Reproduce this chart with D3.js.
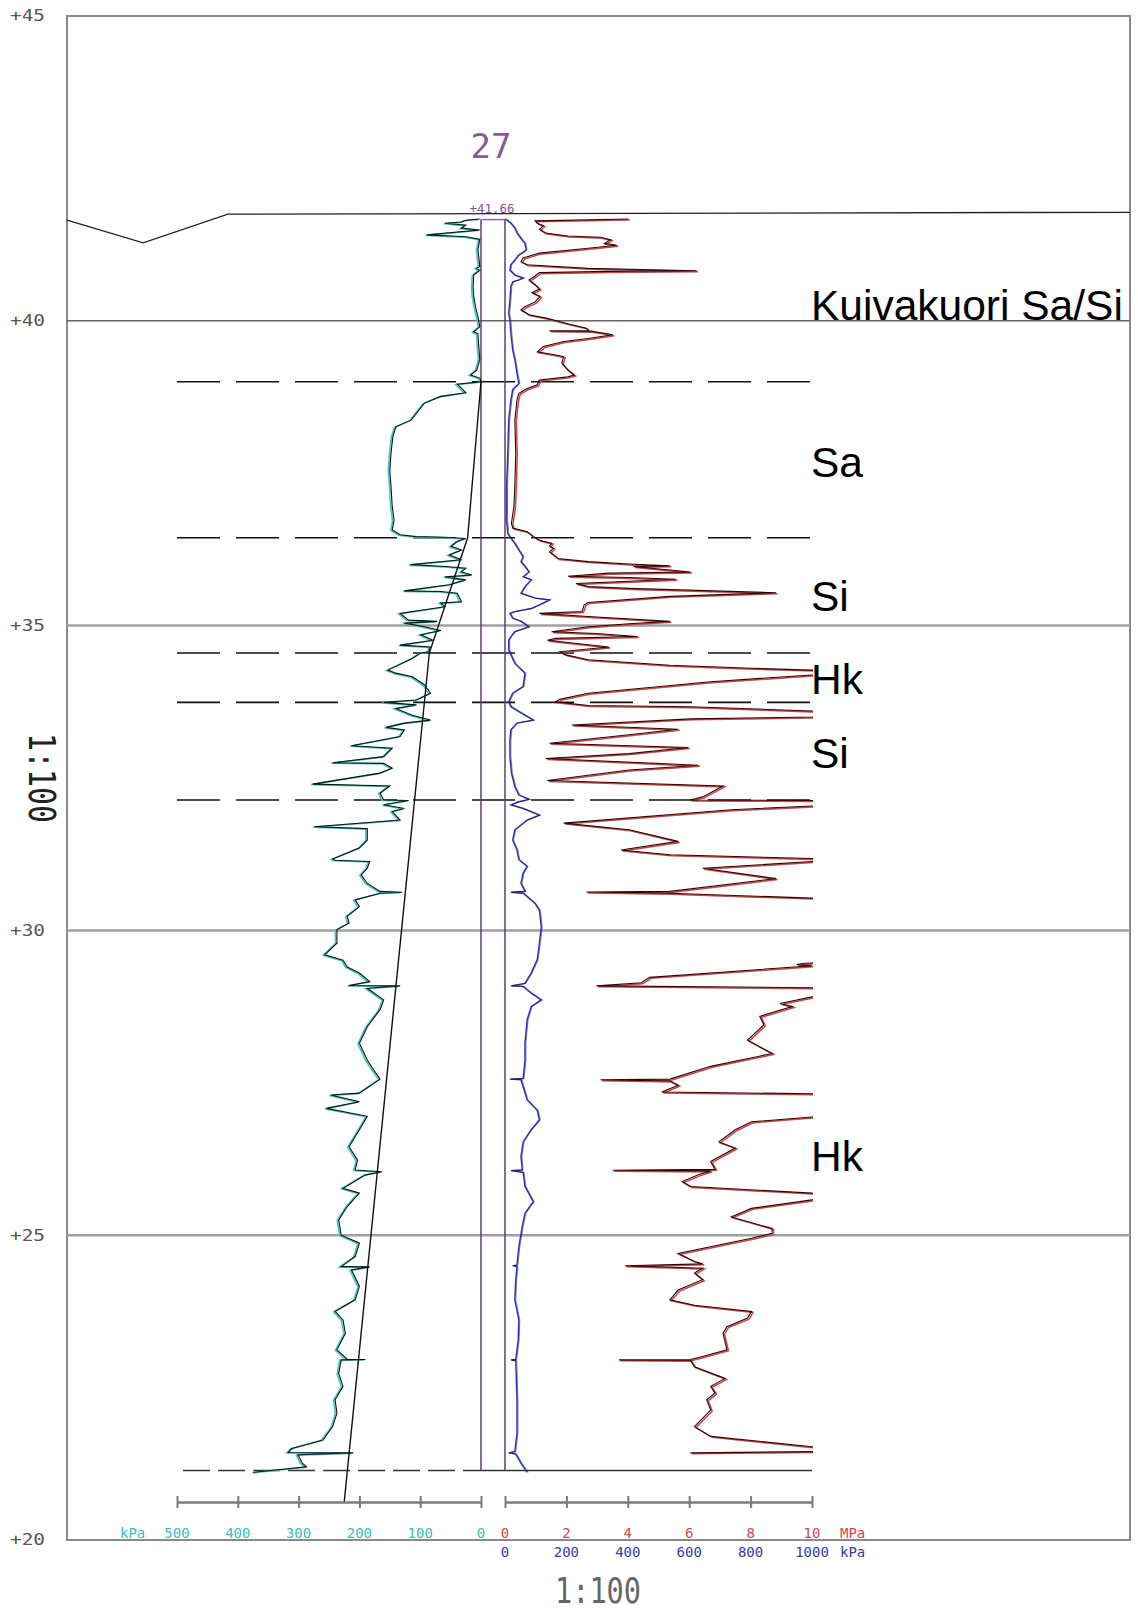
<!DOCTYPE html>
<html lang="fi">
  <head>
    <meta charset="utf-8">
    <title>CPT 27</title>
    <style>
      body { margin: 0; background: #fff; }
      svg { display: block; }
    </style>
    <script src="https://d3js.org/d3.v7.min.js"></script>
  </head>
  <body>
    <div class="chart"></div>
    <script>
    // elevation grid, layer boundaries, ground surface
    const elevTicks = [45, 40, 35, 30, 25, 20];
    const layerLines = [40, 35, 30, 25];
    const boundaries = [39.0, 36.44, 34.55, 33.74, 32.14];
    const bottomElev = 21.14;
    const cptTop = 41.66;
    const groundDist = [0, 1.25, 2.64, 17.44];
    const groundElev = [41.65, 41.28, 41.75, 41.78];

    const layerNames = ["Kuivakuori Sa/Si", "Sa", "Si", "Hk", "Si", "Hk"];
    const layerNameElev = [40.01, 37.44, 35.24, 33.88, 32.66, 26.05];

    const leftTicks = [500, 400, 300, 200, 100, 0];
    const mpaTicks = [0, 2, 4, 6, 8, 10];
    const kpaTicks = [0, 200, 400, 600, 800, 1000];

    // [elevation, kPa] left curve
    const fs = [[41.67,2],[41.65,25],[41.62,32],[41.60,59],[41.57,25],[41.52,32],[41.49,2],[41.41,89],[41.38,25],[41.34,2],[41.16,5],[40.89,2],[40.86,7],[40.83,2],[40.75,12],[40.56,13],[40.40,12],[40.23,9],[40.07,5],[39.90,2],[39.82,12],[39.79,5],[39.63,4],[39.36,2],[39.19,7],[39.11,17],[39.06,2],[39.00,0],[38.96,39],[38.89,32],[38.82,25],[38.76,66],[38.65,93],[38.37,115],[38.26,140],[38.10,145],[37.83,148],[37.55,150],[37.28,148],[36.95,146],[36.73,143],[36.57,146],[36.49,133],[36.46,106],[36.45,59],[36.43,25],[36.38,39],[36.30,49],[36.24,32],[36.16,52],[36.08,32],[36.00,116],[35.97,59],[35.94,25],[35.88,32],[35.83,15],[35.80,59],[35.75,25],[35.67,52],[35.57,126],[35.56,66],[35.53,39],[35.39,32],[35.37,66],[35.31,59],[35.20,133],[35.09,119],[35.07,72],[35.04,126],[34.98,93],[34.92,66],[34.85,99],[34.76,79],[34.68,133],[34.65,83],[34.57,86],[34.55,99],[34.46,113],[34.27,153],[34.22,140],[34.16,113],[34.03,93],[33.89,83],[33.78,106],[33.74,160],[33.70,106],[33.64,140],[33.53,113],[33.45,83],[33.40,126],[33.33,156],[33.29,126],[33.18,133],[33.03,213],[32.99,146],[32.85,160],[32.75,244],[32.74,160],[32.66,146],[32.58,166],[32.40,277],[32.37,150],[32.25,166],[32.14,160],[32.13,119],[32.06,160],[32.00,126],[31.95,146],[31.81,133],[31.70,274],[31.67,187],[31.48,187],[31.35,200],[31.17,244],[31.15,240],[31.13,183],[31.02,187],[30.91,197],[30.77,187],[30.64,166],[30.625,130],[30.61,166],[30.50,207],[30.39,200],[30.23,220],[30.12,217],[30.01,237],[29.79,237],[29.60,257],[29.51,227],[29.40,220],[29.30,200],[29.16,183],[29.095,217],[29.09,133],[29.05,187],[28.86,160],[28.70,166],[28.42,187],[28.15,200],[27.87,187],[27.66,173],[27.56,166],[27.33,200],[27.30,247],[27.19,200],[27.08,254],[26.95,187],[26.73,200],[26.45,217],[26.23,203],[26.07,207],[26.04,163],[25.99,190],[25.77,227],[25.69,200],[25.47,220],[25.25,234],[25.00,230],[24.87,200],[24.65,207],[24.485,230],[24.48,183],[24.43,213],[24.16,200],[23.94,207],[23.75,240],[23.61,227],[23.39,223],[23.12,237],[22.965,220],[22.96,190],[22.955,230],[22.73,234],[22.52,227],[22.30,240],[22.08,237],[21.86,244],[21.64,260],[21.50,311],[21.435,317],[21.43,210],[21.40,301],[21.26,294],[21.20,287],[21.11,374]];

    // [elevation, kPa] stress line
    const stress = [[39.0,0],[36.44,22],[34.55,85],[20.62,225]];

    // [elevation, MPa] cone resistance (values > 10 run off the scale)
    const qc = [[41.67,4.02],[41.64,0.98],[41.60,1.05],[41.56,1.25],[41.50,1.12],[41.44,1.32],[41.39,2.05],[41.37,3.11],[41.33,3.44],[41.27,3.24],[41.24,3.64],[41.19,2.71],[41.11,1.12],[41.03,0.59],[40.97,0.52],[40.92,0.72],[40.86,2.71],[40.82,6.24],[40.81,3.38],[40.79,1.12],[40.735,0.98],[40.67,0.78],[40.59,0.98],[40.52,1.12],[40.46,0.88],[40.40,1.14],[40.31,0.98],[40.23,0.65],[40.18,0.52],[40.10,0.78],[40.04,1.38],[39.96,1.98],[39.88,2.65],[39.84,2.70],[39.835,1.45],[39.83,2.80],[39.77,3.51],[39.71,2.71],[39.66,1.91],[39.58,1.25],[39.49,1.05],[39.44,1.65],[39.41,1.91],[39.30,1.85],[39.19,2.05],[39.11,2.25],[39.08,2.05],[39.03,1.12],[38.95,1.05],[38.89,0.72],[38.81,0.45],[38.70,0.39],[38.37,0.32],[37.83,0.35],[37.28,0.32],[36.95,0.29],[36.68,0.21],[36.60,0.25],[36.54,0.72],[36.46,0.92],[36.40,1.12],[36.35,1.52],[36.30,1.45],[36.27,1.58],[36.21,1.45],[36.16,1.58],[36.10,1.72],[36.05,2.71],[36.01,4.04],[35.98,5.37],[35.97,4.18],[35.88,6.04],[35.86,3.38],[35.81,2.05],[35.79,4.04],[35.76,5.57],[35.69,2.31],[35.64,2.71],[35.61,4.04],[35.54,8.83],[35.48,5.37],[35.38,2.71],[35.34,2.58],[35.23,2.51],[35.20,1.12],[35.15,2.71],[35.07,5.37],[35.03,4.04],[34.98,2.71],[34.90,1.52],[34.87,2.98],[34.82,4.31],[34.79,1.65],[34.76,1.38],[34.65,3.38],[34.57,1.78],[34.52,1.98],[34.44,2.71],[34.35,5.37],[34.30,8.03],[34.27,10],[34.24,11],[34.21,11],[34.19,10],[34.08,6.70],[33.89,2.71],[33.79,1.78],[33.75,1.65],[33.69,2.71],[33.67,6.04],[33.60,10],[33.58,11],[33.52,11],[33.50,10],[33.47,6.04],[33.37,2.18],[33.30,5.64],[33.21,4.04],[33.07,1.45],[33.00,5.97],[32.90,4.04],[32.82,1.32],[32.71,6.30],[32.63,4.04],[32.46,1.38],[32.37,7.10],[32.19,6.44],[32.14,6.04],[32.13,10],[32.11,11],[32.06,11],[32.04,10],[31.98,7.37],[31.76,1.91],[31.65,4.04],[31.46,5.64],[31.32,3.78],[31.24,5.37],[31.18,10],[31.16,11],[31.15,11],[31.13,10],[31.02,6.44],[30.85,8.83],[30.64,5.37],[30.63,2.65],[30.61,5.37],[30.53,10],[30.50,11],[29.48,11],[29.46,9.76],[29.44,9.5],[29.42,10],[29.23,4.71],[29.14,4.44],[29.09,2.98],[29.06,10],[29.04,11],[28.93,11],[28.91,10],[28.80,8.96],[28.75,9.36],[28.59,8.30],[28.45,8.43],[28.20,7.90],[27.98,8.70],[27.77,6.70],[27.56,5.37],[27.55,3.11],[27.53,5.37],[27.46,5.64],[27.35,5.11],[27.32,10],[27.30,11],[26.96,11],[26.94,10],[26.86,8.03],[26.73,7.50],[26.53,6.97],[26.43,7.50],[26.21,6.70],[26.08,6.84],[26.065,3.51],[26.055,6.70],[25.99,6.30],[25.88,5.77],[25.80,6.04],[25.69,10],[25.67,11],[25.60,11],[25.58,10],[25.44,8.03],[25.30,7.37],[25.11,8.70],[25.03,8.70],[24.95,8.03],[24.70,5.64],[24.57,6.17],[24.53,6.44],[24.50,3.91],[24.46,6.44],[24.38,6.17],[24.27,6.44],[24.10,5.64],[23.94,5.37],[23.85,6.17],[23.75,8.03],[23.64,7.90],[23.50,7.23],[23.39,7.10],[23.12,7.23],[23.01,6.44],[22.96,6.04],[22.955,3.71],[22.95,6.04],[22.84,6.17],[22.65,7.17],[22.52,6.70],[22.41,6.84],[22.30,6.57],[22.13,6.70],[21.86,6.17],[21.70,6.70],[21.53,10],[21.50,11],[21.46,11],[21.45,10],[21.43,6.04]];

    // [elevation, kPa] blue curve
    const u = [[41.67,1],[41.60,19],[41.52,32],[41.44,39],[41.35,52],[41.27,65],[41.16,69],[41.08,45],[41.00,32],[40.92,19],[40.83,16],[40.75,32],[40.70,59],[40.67,45],[40.64,25],[40.56,19],[40.34,16],[40.12,12],[40.01,16],[39.80,19],[39.52,25],[39.36,32],[39.14,39],[38.97,45],[38.87,25],[38.70,19],[38.37,12],[37.83,9],[37.28,5],[36.73,5],[36.51,9],[36.43,19],[36.35,32],[36.24,45],[36.13,59],[36.05,52],[35.97,65],[35.88,78],[35.80,59],[35.75,85],[35.64,65],[35.53,52],[35.45,98],[35.42,145],[35.34,112],[35.28,85],[35.23,32],[35.20,16],[35.12,25],[35.07,52],[34.98,78],[34.90,32],[34.82,19],[34.76,12],[34.60,12],[34.38,32],[34.22,65],[34.00,59],[33.89,25],[33.75,12],[33.67,19],[33.59,45],[33.45,92],[33.40,39],[33.29,19],[33.12,16],[32.85,16],[32.58,21],[32.36,32],[32.22,45],[32.15,78],[32.11,45],[32.06,19],[32.00,59],[31.89,112],[31.81,72],[31.65,32],[31.48,25],[31.32,39],[31.16,45],[31.05,72],[30.94,59],[30.77,52],[30.64,65],[30.625,19],[30.61,59],[30.44,98],[30.33,112],[30.06,118],[29.79,112],[29.52,105],[29.30,85],[29.13,65],[29.09,19],[29.08,59],[28.97,85],[28.86,118],[28.75,85],[28.53,72],[28.15,65],[27.87,65],[27.57,59],[27.56,16],[27.55,52],[27.22,72],[27.05,105],[26.89,112],[26.73,85],[26.53,59],[26.29,52],[26.07,56],[26.06,19],[26.03,59],[25.80,65],[25.55,92],[25.36,65],[25.14,56],[24.81,45],[24.51,39],[24.50,25],[24.48,39],[24.27,35],[23.94,32],[23.61,45],[23.28,43],[22.96,35],[22.955,19],[22.94,35],[22.30,39],[21.75,39],[21.45,32],[21.43,12],[21.41,35],[21.26,52],[21.11,72]];

    const width = 1138, height = 1611;
    const frame = { left: 67, right: 1130, top: 16, bottom: 1540 };
    const axisY = 1502;
    const mono = "'DejaVu Sans Mono', monospace";

    const svg = d3.select(".chart")
      .append("svg")
      .attr("width", width)
      .attr("height", height)
      .style("background-color", "#fff");

    const y = d3.scaleLinear().domain([45, 20]).range([frame.top, frame.bottom]);
    const xDist = d3.scaleLinear().domain([0, 17.44]).range([frame.left, frame.right]);
    const xLeft = d3.scaleLinear().domain([0, 500]).range([481, 177]);
    const xMpa = d3.scaleLinear().domain([0, 10]).range([505, 812]);
    const xKpa = d3.scaleLinear().domain([0, 1000]).range([505, 812]);

    svg.append("clipPath").attr("id", "right-clip")
      .append("rect")
      .attr("x", xMpa(0) - 10).attr("y", frame.top)
      .attr("width", xMpa(10) - xMpa(0) + 11).attr("height", frame.bottom - frame.top);

    // frame
    svg.append("rect")
      .attr("x", frame.left).attr("y", frame.top)
      .attr("width", frame.right - frame.left).attr("height", frame.bottom - frame.top)
      .attr("fill", "none").attr("stroke", "#8a8a8a").attr("stroke-width", 2)

    // elevation labels
    svg.append("g")
      .attr("transform", `translate(${frame.left},0)`)
      .call(d3.axisLeft(y).tickValues(elevTicks).tickSize(0).tickPadding(22).tickFormat(d => "+" + d))
      .call(g => g.select(".domain").remove())
      .attr("font-family", mono)
      .attr("font-size", 15)
      .attr("color", "#555")
      .call(g => g.selectAll("text").attr("textLength", 35).attr("lengthAdjust", "spacingAndGlyphs"))

    // elevation grid lines
    svg.append("g").selectAll("line")
      .data(layerLines)
      .join("line")
      .attr("x1", frame.left).attr("x2", frame.right)
      .attr("y1", d => y(d)).attr("y2", d => y(d))
      .attr("stroke", d => d === 40 ? "#666" : "#a0a0a0")
      .attr("stroke-width", d => d === 40 ? 1.5 : 2.5)

    // layer boundaries
    svg.append("g").selectAll("line")
      .data(boundaries)
      .join("line")
      .attr("x1", xLeft(500)).attr("x2", xMpa(10))
      .attr("y1", d => y(d)).attr("y2", d => y(d))
      .attr("stroke", "#111").attr("stroke-width", 1.6)
      .attr("stroke-dasharray", "43,16")

    svg.append("line")
      .attr("x1", xLeft(490)).attr("x2", xLeft(0))
      .attr("y1", y(bottomElev)).attr("y2", y(bottomElev))
      .attr("stroke", "#333").attr("stroke-width", 1.4)
      .attr("stroke-dasharray", "27,8")
    svg.append("line")
      .attr("x1", xLeft(0)).attr("x2", xMpa(10))
      .attr("y1", y(bottomElev)).attr("y2", y(bottomElev))
      .attr("stroke", "#333").attr("stroke-width", 1.4)

    // ground surface
    const ground = groundDist.map((d, i) => [d, groundElev[i]]);
    svg.append("path")
      .datum(ground)
      .attr("d", d3.line().x(d => xDist(d[0])).y(d => y(d[1])))
      .attr("fill", "none").attr("stroke", "#222").attr("stroke-width", 1.3)

    // sounding column
    svg.append("g").selectAll("line")
      .data([xLeft(0), xMpa(0)])
      .join("line")
      .attr("x1", d => d).attr("x2", d => d)
      .attr("y1", y(cptTop)).attr("y2", y(bottomElev))
      .attr("stroke", "#5e4266").attr("stroke-width", 1.5)
    svg.append("line")
      .attr("x1", xLeft(0)).attr("x2", xMpa(0))
      .attr("y1", y(cptTop)).attr("y2", y(cptTop))
      .attr("stroke", "#8a5a98").attr("stroke-width", 1.4)

    // curves
    const lineL = d3.line().x(d => xLeft(d[1])).y(d => y(d[0]));
    const lineQ = d3.line().x(d => xMpa(d[1])).y(d => y(d[0]));
    const lineU = d3.line().x(d => xKpa(d[1])).y(d => y(d[0]));

    svg.append("path").datum(fs).attr("d", lineL)
      .attr("transform", "translate(-1.5,0.5)")
      .attr("fill", "none").attr("stroke", "#40c8c8").attr("stroke-width", 1.6)
    svg.append("path").datum(fs).attr("d", lineL)
      .attr("fill", "none").attr("stroke", "#111").attr("stroke-width", 1.1)

    svg.append("path").datum(stress).attr("d", lineL)
      .attr("fill", "none").attr("stroke", "#111").attr("stroke-width", 1.4)

    const right = svg.append("g").attr("clip-path", "url(#right-clip)");
    right.append("path").datum(qc).attr("d", lineQ)
      .attr("transform", "translate(1.5,1)")
      .attr("fill", "none").attr("stroke", "#e03c3c").attr("stroke-width", 1.5)
    right.append("path").datum(qc).attr("d", lineQ)
      .attr("fill", "none").attr("stroke", "#111").attr("stroke-width", 1.1)

    right.append("path").datum(u).attr("d", lineU)
      .attr("fill", "none").attr("stroke", "#3030c8").attr("stroke-width", 1.4)
    right.append("path").datum(u).attr("d", lineU)
      .attr("transform", "translate(1,0)")
      .attr("fill", "none").attr("stroke", "#111").attr("stroke-width", 0.9).attr("opacity", 0.55)

    // bottom scales
    const scaleAxis = (scale, ticks) => g => g
      .attr("transform", `translate(0,${axisY})`)
      .call(g => g.append("g").call(d3.axisBottom(scale).tickValues(ticks).tickSize(6).tickSizeOuter(0).tickFormat("")))
      .call(g => g.append("g").call(d3.axisTop(scale).tickValues(ticks).tickSize(6).tickSizeOuter(0).tickFormat("")))
      .attr("color", "#7a7a7a")
      .call(g => g.selectAll("path, line").attr("stroke-width", 2))

    svg.append("g").call(scaleAxis(xLeft, leftTicks))
    svg.append("g").call(scaleAxis(xMpa, mpaTicks))

    const labels = svg.append("g").attr("font-family", mono).attr("font-size", 14).attr("text-anchor", "middle")

    labels.selectAll(".lt").data(leftTicks).join("text")
      .attr("x", d => xLeft(d)).attr("y", 1538)
      .attr("fill", "#3cbcbc").text(d => d)
    labels.selectAll(".mt").data(mpaTicks).join("text")
      .attr("x", d => xMpa(d)).attr("y", 1538)
      .attr("fill", "#d04848").text(d => d)
    labels.selectAll(".kt").data(kpaTicks).join("text")
      .attr("x", d => xKpa(d)).attr("y", 1557)
      .attr("fill", "#3a3aa8").text(d => d)

    labels.append("text").attr("x", 120).attr("y", 1538).attr("text-anchor", "start")
      .attr("fill", "#3cbcbc").text("kPa")
    labels.append("text").attr("x", 840).attr("y", 1538).attr("text-anchor", "start")
      .attr("fill", "#d04848").text("MPa")
    labels.append("text").attr("x", 840).attr("y", 1557).attr("text-anchor", "start")
      .attr("fill", "#3a3aa8").text("kPa")

    // scale notes
    svg.append("text")
      .attr("x", 555).attr("y", 1603)
      .attr("font-family", mono).attr("font-size", 36)
      .attr("textLength", 86).attr("lengthAdjust", "spacingAndGlyphs")
      .attr("fill", "#666").text("1:100")

    svg.append("text")
      .attr("transform", "translate(29,733) rotate(90)")
      .attr("font-family", mono).attr("font-size", 38)
      .attr("textLength", 90).attr("lengthAdjust", "spacingAndGlyphs")
      .attr("fill", "#222").text("1:100")

    // sounding id and top elevation
    svg.append("text")
      .attr("x", 491).attr("y", 158)
      .attr("text-anchor", "middle")
      .attr("font-family", mono).attr("font-size", 34)
      .attr("fill", "#8a5a98").text("27")

    svg.append("text")
      .attr("x", 492).attr("y", 213)
      .attr("text-anchor", "middle")
      .attr("font-family", mono).attr("font-size", 13)
      .attr("textLength", 45).attr("lengthAdjust", "spacingAndGlyphs")
      .attr("fill", "#8a5098").text("+" + cptTop.toFixed(2))

    // soil layer names
    svg.append("g").selectAll("text")
      .data(layerNames)
      .join("text")
      .attr("x", 811)
      .attr("y", (d, i) => y(layerNameElev[i]))
      .attr("font-family", "'Liberation Sans', Arial, sans-serif")
      .attr("font-size", 42.5)
      .attr("fill", "#000")
      .text(d => d)
    </script>
  </body>
</html>
